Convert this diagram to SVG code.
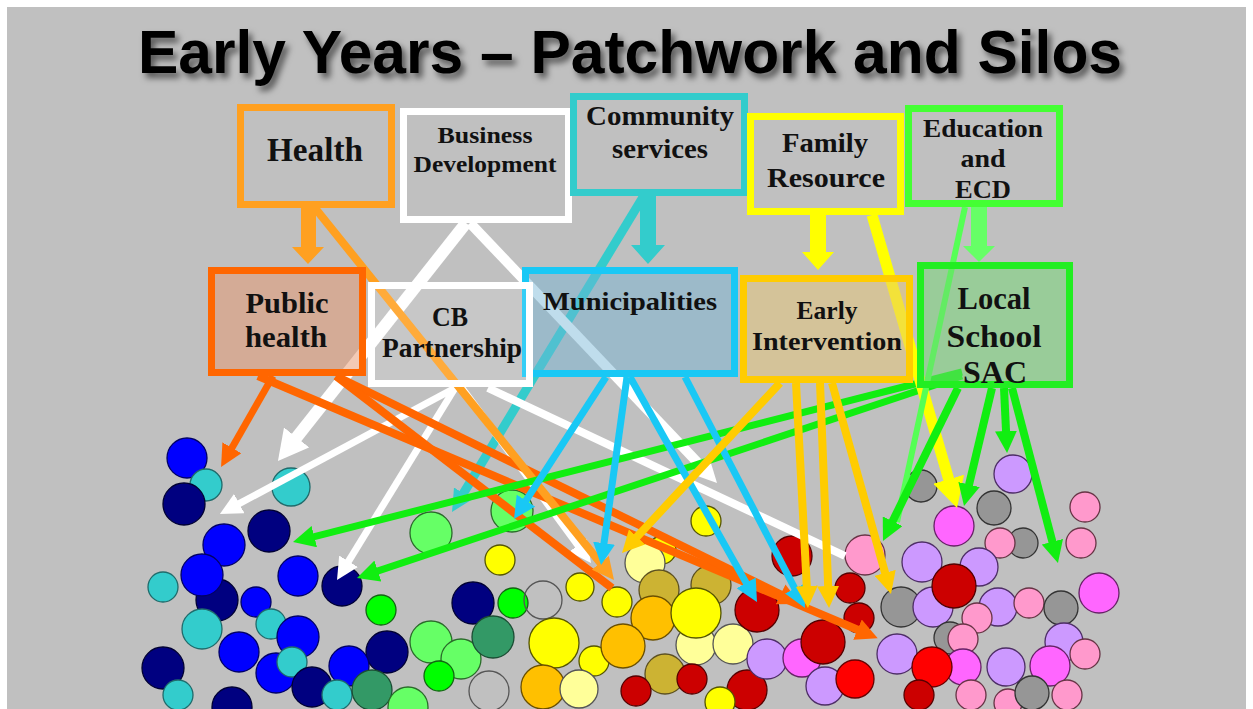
<svg xmlns="http://www.w3.org/2000/svg" width="1253" height="709" viewBox="0 0 1253 709">
<defs>
<style>
.title{font-family:"Liberation Sans",Arial,sans-serif;font-weight:bold;font-size:62px;fill:#000}
.lbl{font-family:"Liberation Serif","Times New Roman",serif;font-weight:bold;fill:#111;text-anchor:middle}
.box{stroke-width:7}
.ln{fill:none;stroke-linecap:butt}
.b{fill:#0000ff;stroke:#000066}
.n{fill:#000080;stroke:#000033}
.t{fill:#33cccc;stroke:#1f6b6b}
.lg{fill:#66ff66;stroke:#2a6b2a}
.g{fill:#00ff00;stroke:#116611}
.sg{fill:#339966;stroke:#1a4d33}
.e{fill:none;stroke:#555}
.y{fill:#ffff00;stroke:#555500}
.ly{fill:#ffff99;stroke:#555}
.o{fill:#ffc000;stroke:#6b5000}
.ol{fill:#ccb333;stroke:#5c5020}
.dr{fill:#cc0000;stroke:#550000}
.r{fill:#ff0000;stroke:#660000}
.lv{fill:#cc99ff;stroke:#4d2d66}
.m{fill:#ff66ff;stroke:#662266}
.p{fill:#ff99cc;stroke:#663344}
.gr{fill:#969696;stroke:#333}
#circles circle{stroke-width:1.3}
</style>
<filter id="sh" x="-5%" y="-30%" width="110%" height="170%">
<feDropShadow dx="4" dy="5" stdDeviation="3" flood-color="#000" flood-opacity="0.55"/>
</filter>
<marker id="m-or" markerUnits="userSpaceOnUse" markerWidth="22" markerHeight="22" viewBox="0 0 22 22" refX="6" refY="11" orient="auto"><path d="M0,0 L22,11 L0,22 z" fill="#ffa020"/></marker>
<marker id="m-rd" markerUnits="userSpaceOnUse" markerWidth="22" markerHeight="22" viewBox="0 0 22 22" refX="6" refY="11" orient="auto"><path d="M0,0 L22,11 L0,22 z" fill="#ff6600"/></marker>
<marker id="m-w" markerUnits="userSpaceOnUse" markerWidth="22" markerHeight="22" viewBox="0 0 22 22" refX="6" refY="11" orient="auto"><path d="M0,0 L22,11 L0,22 z" fill="#ffffff"/></marker>
<marker id="m-wb" markerUnits="userSpaceOnUse" markerWidth="30" markerHeight="32" viewBox="0 0 30 32" refX="8" refY="16" orient="auto"><path d="M0,0 L30,16 L0,32 z" fill="#ffffff"/></marker>
<marker id="m-t" markerUnits="userSpaceOnUse" markerWidth="22" markerHeight="22" viewBox="0 0 22 22" refX="6" refY="11" orient="auto"><path d="M0,0 L22,11 L0,22 z" fill="#33cccc"/></marker>
<marker id="m-s" markerUnits="userSpaceOnUse" markerWidth="22" markerHeight="22" viewBox="0 0 22 22" refX="6" refY="11" orient="auto"><path d="M0,0 L22,11 L0,22 z" fill="#19c8f5"/></marker>
<marker id="m-gd" markerUnits="userSpaceOnUse" markerWidth="22" markerHeight="22" viewBox="0 0 22 22" refX="6" refY="11" orient="auto"><path d="M0,0 L22,11 L0,22 z" fill="#ffcc00"/></marker>
<marker id="m-yb" markerUnits="userSpaceOnUse" markerWidth="30" markerHeight="32" viewBox="0 0 30 32" refX="8" refY="16" orient="auto"><path d="M0,0 L30,16 L0,32 z" fill="#ffff00"/></marker>
<marker id="m-g" markerUnits="userSpaceOnUse" markerWidth="22" markerHeight="22" viewBox="0 0 22 22" refX="6" refY="11" orient="auto"><path d="M0,0 L22,11 L0,22 z" fill="#11ee11"/></marker>
</defs>

<rect x="0" y="0" width="1253" height="709" fill="#ffffff"/>
<rect x="7" y="7" width="1239" height="702" fill="#c0c0c0"/>

<text id="title" class="title" x="630" y="73" text-anchor="middle" textLength="984" lengthAdjust="spacingAndGlyphs" filter="url(#sh)">Early Years – Patchwork and Silos</text>

<g id="circles">
<circle class="b" cx="187" cy="458" r="20"/>
<circle class="t" cx="206" cy="485" r="16"/>
<circle class="n" cx="184" cy="504" r="21"/>
<circle class="t" cx="291" cy="487" r="19"/>
<circle class="b" cx="224" cy="545" r="21"/>
<circle class="n" cx="269" cy="531" r="21"/>
<circle class="n" cx="217" cy="600" r="21"/>
<circle class="b" cx="202" cy="575" r="21"/>
<circle class="t" cx="163" cy="587" r="15"/>
<circle class="b" cx="298" cy="576" r="20"/>
<circle class="n" cx="342" cy="586" r="20"/>
<circle class="b" cx="256" cy="602" r="15"/>
<circle class="t" cx="202" cy="629" r="20"/>
<circle class="t" cx="271" cy="624" r="15"/>
<circle class="b" cx="298" cy="637" r="21"/>
<circle class="b" cx="239" cy="652" r="20"/>
<circle class="g" cx="381" cy="610" r="15"/>
<circle class="n" cx="387" cy="652" r="21"/>
<circle class="n" cx="163" cy="668" r="21"/>
<circle class="b" cx="276" cy="673" r="20"/>
<circle class="t" cx="292" cy="662" r="15"/>
<circle class="b" cx="349" cy="666" r="20"/>
<circle class="n" cx="312" cy="687" r="20"/>
<circle class="t" cx="178" cy="695" r="15"/>
<circle class="t" cx="337" cy="695" r="15"/>
<circle class="sg" cx="372" cy="690" r="20"/>
<circle class="n" cx="232" cy="707" r="20"/>
<circle class="lg" cx="408" cy="707" r="20"/>

<circle class="lg" cx="431" cy="533" r="21"/>
<circle class="lg" cx="512" cy="511" r="21"/>
<circle class="y" cx="500" cy="560" r="15"/>
<circle class="n" cx="473" cy="603" r="21"/>
<circle class="g" cx="513" cy="603" r="15"/>
<circle class="e" cx="543" cy="600" r="19"/>
<circle class="lg" cx="431" cy="642" r="21"/>
<circle class="lg" cx="461" cy="659" r="20"/>
<circle class="g" cx="439" cy="676" r="15"/>
<circle class="sg" cx="493" cy="637" r="21"/>
<circle class="e" cx="489" cy="691" r="20"/>
<circle class="y" cx="580" cy="587" r="14"/>
<circle class="y" cx="617" cy="602" r="15"/>
<circle class="y" cx="554" cy="643" r="25"/>
<circle class="y" cx="594" cy="661" r="15"/>
<circle class="o" cx="543" cy="687" r="22"/>
<circle class="ly" cx="579" cy="689" r="19"/>
<circle class="y" cx="662" cy="550" r="14"/>
<circle class="ly" cx="645" cy="563" r="20"/>
<circle class="ol" cx="659" cy="590" r="20"/>
<circle class="ol" cx="711" cy="585" r="20"/>
<circle class="o" cx="653" cy="618" r="22"/>
<circle class="ly" cx="696" cy="645" r="20"/>
<circle class="y" cx="696" cy="613" r="25"/>
<circle class="o" cx="623" cy="646" r="22"/>
<circle class="ly" cx="733" cy="644" r="20"/>
<circle class="ol" cx="665" cy="674" r="20"/>
<circle class="dr" cx="692" cy="679" r="15"/>
<circle class="dr" cx="636" cy="691" r="15"/>
<circle class="dr" cx="747" cy="690" r="20"/>
<circle class="y" cx="720" cy="702" r="15"/>
<circle class="y" cx="706" cy="521" r="15"/>
<circle class="dr" cx="792" cy="556" r="20"/>
<circle class="dr" cx="757" cy="610" r="22"/>
<circle class="lv" cx="767" cy="659" r="20"/>
<circle class="m" cx="802" cy="658" r="19"/>
<circle class="dr" cx="823" cy="642" r="22"/>
<circle class="lv" cx="825" cy="686" r="19"/>
<circle class="r" cx="855" cy="679" r="19"/>
<circle class="p" cx="865" cy="555" r="20"/>
<circle class="dr" cx="850" cy="588" r="15"/>
<circle class="dr" cx="859" cy="618" r="15"/>

<circle class="gr" cx="921" cy="486" r="16"/>
<circle class="lv" cx="1013" cy="474" r="19"/>
<circle class="m" cx="954" cy="526" r="20"/>
<circle class="gr" cx="994" cy="508" r="17"/>
<circle class="p" cx="1085" cy="507" r="15"/>
<circle class="gr" cx="1023" cy="543" r="15"/>
<circle class="p" cx="1000" cy="543" r="15"/>
<circle class="p" cx="1081" cy="543" r="15"/>
<circle class="lv" cx="922" cy="562" r="20"/>
<circle class="lv" cx="979" cy="567" r="19"/>
<circle class="gr" cx="901" cy="607" r="20"/>
<circle class="lv" cx="933" cy="607" r="20"/>
<circle class="dr" cx="954" cy="586" r="22"/>
<circle class="lv" cx="998" cy="607" r="19"/>
<circle class="p" cx="1029" cy="603" r="15"/>
<circle class="gr" cx="1061" cy="608" r="17"/>
<circle class="m" cx="1099" cy="593" r="20"/>
<circle class="p" cx="977" cy="618" r="15"/>
<circle class="gr" cx="950" cy="638" r="16"/>
<circle class="p" cx="963" cy="639" r="15"/>
<circle class="lv" cx="897" cy="654" r="20"/>
<circle class="m" cx="963" cy="667" r="18"/>
<circle class="r" cx="932" cy="667" r="20"/>
<circle class="lv" cx="1006" cy="667" r="19"/>
<circle class="lv" cx="1064" cy="642" r="19"/>
<circle class="m" cx="1050" cy="666" r="20"/>
<circle class="p" cx="1085" cy="654" r="15"/>
<circle class="dr" cx="919" cy="695" r="15"/>
<circle class="p" cx="971" cy="695" r="15"/>
<circle class="p" cx="1008" cy="703" r="14"/>
<circle class="gr" cx="1032" cy="693" r="17"/>
<circle class="p" cx="1067" cy="695" r="15"/>
</g>

<g id="connectors">
<!-- Community services -->
<path class="ln" d="M643,197 L460.3,498.3" stroke="#33cccc" stroke-width="9" marker-end="url(#m-t)"/>
<polygon points="640,196 656,196 656,245 665,245 648,264 631,245 640,245" fill="#33cccc"/>
<!-- Business Development -->
<path class="ln" d="M466,223 L291.6,443.7" stroke="#fff" stroke-width="12" marker-end="url(#m-wb)"/>
<path class="ln" d="M470,223 L706,471.4" stroke="#fff" stroke-width="10" marker-end="url(#m-w)"/>
<!-- CB Partnership -->
<path class="ln" d="M455,388 L234,506.4" stroke="#fff" stroke-width="7" marker-end="url(#m-w)"/>
<path class="ln" d="M455,388 L345.4,566.4" stroke="#fff" stroke-width="7" marker-end="url(#m-w)"/>
<path class="ln" d="M462,388 L581.5,550.1" stroke="#fff" stroke-width="7" marker-end="url(#m-w)"/>
<path class="ln" d="M488,388 L845,556" stroke="#fff" stroke-width="8"/>
<!-- Public health -->
<path class="ln" d="M273,376 L229,453" stroke="#ff6600" stroke-width="7" marker-end="url(#m-rd)"/>
<path class="ln" d="M258,376 L863,632" stroke="#ff6600" stroke-width="8" marker-end="url(#m-rd)"/>
<path class="ln" d="M336,376 L786,597" stroke="#ff6600" stroke-width="8" marker-end="url(#m-rd)"/>
<path class="ln" d="M336,376 L612,588" stroke="#ff6600" stroke-width="8"/>
<!-- Health -->
<path class="ln" d="M315,208 L604,567.5" stroke="#ffa020" stroke-width="8" marker-end="url(#m-or)"/>
<polygon points="301,208 316,208 316,247 324,247 308,264 292,247 301,247" fill="#ffa020"/>
<!-- Local School long -->
<path class="ln" d="M962,372 L308.5,538.1" stroke="#11ee11" stroke-width="7" marker-end="url(#m-g)"/>
<path class="ln" d="M962,376 L372.2,572.9" stroke="#11ee11" stroke-width="7" marker-end="url(#m-g)"/>
<!-- Municipalities -->
<path class="ln" d="M606,377 L522.7,505.6" stroke="#19c8f5" stroke-width="7" marker-end="url(#m-s)"/>
<path class="ln" d="M627,377 L603.2,549.1" stroke="#19c8f5" stroke-width="7" marker-end="url(#m-s)"/>
<path class="ln" d="M630,377 L749.1,588.1" stroke="#19c8f5" stroke-width="7" marker-end="url(#m-s)"/>
<path class="ln" d="M685,377 L797.6,593.8" stroke="#19c8f5" stroke-width="7" marker-end="url(#m-s)"/>
<!-- Early Intervention -->
<path class="ln" d="M780,383 L632.9,541.3" stroke="#ffcc00" stroke-width="8" marker-end="url(#m-gd)"/>
<path class="ln" d="M796,383 L807.1,592" stroke="#ffcc00" stroke-width="8" marker-end="url(#m-gd)"/>
<path class="ln" d="M820,383 L828.4,592" stroke="#ffcc00" stroke-width="8" marker-end="url(#m-gd)"/>
<path class="ln" d="M832,383 L886.7,578.6" stroke="#ffcc00" stroke-width="8" marker-end="url(#m-gd)"/>
<!-- Family Resource -->
<path class="ln" d="M872,215 L950.9,486.9" stroke="#ffff00" stroke-width="11" marker-end="url(#m-yb)"/>
<polygon points="810,215 826,215 826,252 834,252 818,270 802,252 810,252" fill="#ffff00"/>
<!-- Education and ECD -->
<path class="ln" d="M965,207 L897,522" stroke="#55ff55" stroke-width="6"/>
<polygon points="971,207 987,207 987,246 995,246 979,262 963,246 971,246" fill="#66ff66"/>
<!-- Local School short -->
<path class="ln" d="M958,388 L890,526.6" stroke="#11ee11" stroke-width="8" marker-end="url(#m-g)"/>
<path class="ln" d="M992,388 L967.7,490.4" stroke="#11ee11" stroke-width="8" marker-end="url(#m-g)"/>
<path class="ln" d="M1004,388 L1006.3,437" stroke="#11ee11" stroke-width="8" marker-end="url(#m-g)"/>
<path class="ln" d="M1012,388 L1053.9,547.5" stroke="#11ee11" stroke-width="8" marker-end="url(#m-g)"/>
</g>

<g id="health">
<rect class="box" x="240.5" y="107.5" width="151" height="97" fill="none" stroke="#ffa020"/>
<text class="lbl" x="315" y="161" font-size="33" textLength="96" lengthAdjust="spacingAndGlyphs">Health</text>
</g>
<g id="business-development">
<rect class="box" x="403.5" y="111.5" width="165" height="108" fill="none" stroke="#ffffff"/>
<text class="lbl" x="485" y="143" font-size="23" textLength="95" lengthAdjust="spacingAndGlyphs">Business</text>
<text class="lbl" x="485" y="172" font-size="23" textLength="143" lengthAdjust="spacingAndGlyphs">Development</text>
</g>
<g id="community-services">
<rect class="box" x="573.5" y="96.5" width="171" height="96" fill="none" stroke="#33cccc"/>
<text class="lbl" x="660" y="125" font-size="27" textLength="148" lengthAdjust="spacingAndGlyphs">Community</text>
<text class="lbl" x="660" y="158" font-size="27" textLength="96" lengthAdjust="spacingAndGlyphs">services</text>
</g>
<g id="family-resource">
<rect class="box" x="750.5" y="116.5" width="150" height="95" fill="none" stroke="#ffff00"/>
<text class="lbl" x="825" y="152" font-size="28" textLength="86" lengthAdjust="spacingAndGlyphs">Family</text>
<text class="lbl" x="826" y="187" font-size="28" textLength="118" lengthAdjust="spacingAndGlyphs">Resource</text>
</g>
<g id="education-ecd">
<rect class="box" x="908.5" y="108.5" width="151" height="95" fill="none" stroke="#44ff33"/>
<text class="lbl" x="983" y="137" font-size="26" textLength="120" lengthAdjust="spacingAndGlyphs">Education</text>
<text class="lbl" x="983" y="167" font-size="26" textLength="45" lengthAdjust="spacingAndGlyphs">and</text>
<text class="lbl" x="983" y="198" font-size="26" textLength="56" lengthAdjust="spacingAndGlyphs">ECD</text>
</g>
<g id="public-health">
<rect class="box" x="211.5" y="270.5" width="151" height="102" fill="#e8956c" fill-opacity="0.5" stroke="#ff6600"/>
<text class="lbl" x="287" y="313" font-size="29" textLength="83" lengthAdjust="spacingAndGlyphs">Public</text>
<text class="lbl" x="286" y="347" font-size="29" textLength="82" lengthAdjust="spacingAndGlyphs">health</text>
</g>
<g id="municipalities">
<rect class="box" x="525.5" y="270.5" width="209" height="103" fill="#70b4d4" fill-opacity="0.45" stroke="#19c8f5"/>
<text class="lbl" x="630" y="310" font-size="26" textLength="174" lengthAdjust="spacingAndGlyphs">Municipalities</text>
</g>
<g id="cb-partnership">
<rect class="box" x="371.5" y="285.5" width="158" height="98" fill="#ffffff" fill-opacity="0.12" stroke="#ffffff"/>
<text class="lbl" x="450" y="326" font-size="28" textLength="36" lengthAdjust="spacingAndGlyphs">CB</text>
<text class="lbl" x="452" y="357" font-size="28" textLength="140" lengthAdjust="spacingAndGlyphs">Partnership</text>
</g>
<g id="early-intervention">
<rect class="box" x="743.5" y="278.5" width="166" height="101" fill="#e8c672" fill-opacity="0.5" stroke="#ffcc00"/>
<text class="lbl" x="827" y="319" font-size="26" textLength="61" lengthAdjust="spacingAndGlyphs">Early</text>
<text class="lbl" x="827" y="350" font-size="26" textLength="150" lengthAdjust="spacingAndGlyphs">Intervention</text>
</g>
<g id="local-school-sac">
<rect class="box" x="920.5" y="265.5" width="149" height="119" fill="#72d872" fill-opacity="0.5" stroke="#22ee22"/>
<text class="lbl" x="994" y="309" font-size="32" textLength="73" lengthAdjust="spacingAndGlyphs">Local</text>
<text class="lbl" x="994" y="347" font-size="32" textLength="95" lengthAdjust="spacingAndGlyphs">School</text>
<text class="lbl" x="995" y="383" font-size="32" textLength="64" lengthAdjust="spacingAndGlyphs">SAC</text>
</g>
</svg>
